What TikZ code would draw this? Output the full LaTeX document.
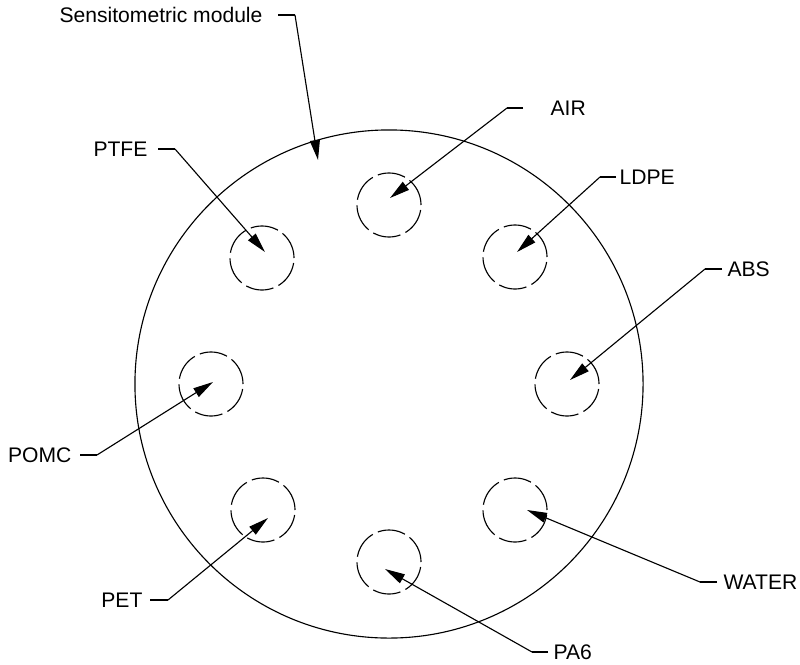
\documentclass[tikz,border=0pt]{standalone}
\usepackage{fontspec}
\setmainfont{Liberation Sans}
\usetikzlibrary{arrows.meta}

\begin{document}
\begin{tikzpicture}[x=0.025cm, y=-0.025cm, line width=0.8pt]
\useasboundingbox (0,0) rectangle (800,664);
\tikzstyle{every node} = [inner sep=0cm, font=\fontsize{15}{18}\selectfont]
\tikzstyle{cell} = [circle, draw, dash pattern=on 0.7cm off 0.14cm, minimum size=1.6cm]
\tikzstyle{lead} = [-{Triangle[length=0.5cm, width=0.25cm]}]
\tikzstyle{tick} = [line width=1.5pt]
% module with its eight cells
\node[circle, draw, minimum size=12.7cm] (mod) at (389,384) {};
\node[cell] (air) at (389,205) {};
\node[cell] (ldpe) at (515,257) {};
\node[cell] (abs) at (567,384) {};
\node[cell] (water) at (515,510) {};
\node[cell] (pa6) at (389,562) {};
\node[cell] (pet) at (263,510) {};
\node[cell] (pomc) at (211,384) {};
\node[cell] (ptfe) at (262,258) {};
% labels
\node[anchor=east] (mod label) at (263,15) {Sensitometric module};
\node[anchor=east] (ptfe label) at (148,149) {PTFE};
\node[anchor=east] (pomc label) at (72,455) {POMC};
\node[anchor=east] (pet label) at (143,600) {PET};
\node[anchor=west] (air label) at (550,108) {AIR};
\node[anchor=west] (ldpe label) at (619,177) {LDPE};
\node[anchor=west] (abs label) at (727,269) {ABS};
\node[anchor=west] (water label) at (723,582) {WATER};
\node[anchor=west] (pa6 label) at (553,652) {PA6};
% ticks and knees
\coordinate (mod s) at (278,15);   \coordinate (mod k) at (295,15);
\coordinate (ptfe s) at (158,149); \coordinate (ptfe k) at (175,149);
\coordinate (pomc s) at (80,455);  \coordinate (pomc k) at (97,455);
\coordinate (pet s) at (150,600);  \coordinate (pet k) at (168,600);
\coordinate (air s) at (523,108);  \coordinate (air k) at (507,108);
\coordinate (ldpe s) at (616,177); \coordinate (ldpe k) at (600,177);
\coordinate (abs s) at (722,269);  \coordinate (abs k) at (705,269);
\coordinate (water s) at (717,582); \coordinate (water k) at (700,582);
\coordinate (pa6 s) at (548,652);  \coordinate (pa6 k) at (532,652);
% arrow tips
\coordinate (mod t) at (318,160);
\coordinate (ptfe t) at ([shift={(3,-6)}]ptfe.center);
\coordinate (pomc t) at ([shift={(2,-2)}]pomc.center);
\coordinate (pet t) at ([shift={(5,8)}]pet.center);
\coordinate (air t) at ([shift={(1,-7)}]air.center);
\coordinate (ldpe t) at ([shift={(2,-5)}]ldpe.center);
\coordinate (abs t) at ([shift={(3,-4)}]abs.center);
\coordinate (water t) at ([shift={(12,0)}]water.center);
\coordinate (pa6 t) at ([shift={(-4,7)}]pa6.center);
\draw[tick] (mod s) -- (mod k);
\draw[tick] (ptfe s) -- (ptfe k);
\draw[tick] (pomc s) -- (pomc k);
\draw[tick] (pet s) -- (pet k);
\draw[tick] (air s) -- (air k);
\draw[tick] (ldpe s) -- (ldpe k);
\draw[tick] (abs s) -- (abs k);
\draw[tick] (water s) -- (water k);
\draw[tick] (pa6 s) -- (pa6 k);
\draw[lead] (mod k) -- (mod t);
\draw[lead] (ptfe k) -- (ptfe t);
\draw[lead] (pomc k) -- (pomc t);
\draw[lead] (pet k) -- (pet t);
\draw[lead] (air k) -- (air t);
\draw[lead] (ldpe k) -- (ldpe t);
\draw[lead] (abs k) -- (abs t);
\draw[lead] (water k) -- (water t);
\draw[lead] (pa6 k) -- (pa6 t);
\end{tikzpicture}
\end{document}
